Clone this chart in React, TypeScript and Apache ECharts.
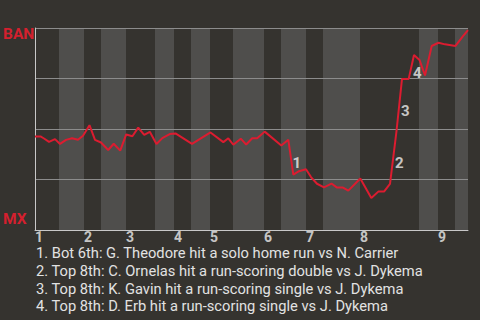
import React, { useEffect, useRef } from "react";
import * as echarts from "echarts";

// Game progress (plays spread across the game) and BAN win probability after each play
const progress = [0, 5.5, 9, 14, 20, 25, 31, 37, 43, 48, 54.5, 60, 66, 73.2, 78.7, 85.2, 91.2, 97.4, 103.2, 109.2, 114.8, 121.5, 127.3, 134.7, 140.5, 157, 175.5, 188.3, 193.3, 198.3, 205.8, 211.2, 217.2, 222.2, 229.7, 246.3, 253.3, 258.3, 264, 271, 276, 282, 289, 296.5, 301.7, 308, 313.3, 325.3, 336.3, 343.3, 349, 355, 361.5, 367, 373.7, 379, 384.5, 390, 396.7, 403.5, 410, 420.5, 428, 433];
const winProb = [0.463, 0.463, 0.453, 0.436, 0.45, 0.426, 0.446, 0.454, 0.447, 0.467, 0.519, 0.446, 0.433, 0.396, 0.427, 0.393, 0.473, 0.464, 0.507, 0.471, 0.486, 0.426, 0.455, 0.475, 0.478, 0.426, 0.483, 0.435, 0.454, 0.422, 0.452, 0.423, 0.454, 0.454, 0.487, 0.418, 0.447, 0.274, 0.291, 0.301, 0.262, 0.229, 0.211, 0.23, 0.211, 0.21, 0.195, 0.255, 0.158, 0.19, 0.19, 0.228, 0.49, 0.748, 0.748, 0.866, 0.842, 0.765, 0.911, 0.927, 0.919, 0.911, 0.96, 0.99];

// Where each inning starts, and the bottom-half spans (shaded)
const inningStarts = [0, 49, 91, 139, 175, 229, 271, 325, 403];
const inningLabels = ["1", "2", "3", "4", "5", "6", "7", "8", "9"];
const bottomHalves: [number, number][] = [
  [24, 49], [66, 91], [120, 139], [156, 175], [198, 229],
  [246, 271], [288, 325], [384, 403], [420, 433],
];
const gameEnd = 433;

// Key plays: index of the play that ends each swing
const keyPlays = [37, 52, 53, 55];
const keyPlayNotes = [
  "1. Bot 6th: G. Theodore hit a solo home run vs N. Carrier",
  "2. Top 8th: C. Ornelas hit a run-scoring double vs J. Dykema",
  "3. Top 8th: K. Gavin hit a run-scoring single vs J. Dykema",
  "4. Top 8th: D. Erb hit a run-scoring single vs J. Dykema",
];

const awayTeam = "BAN";
const homeTeam = "MX";

const BG = "#35332f";
const BAND = "#4f4e4c";
const RED = "#dc1c30";
const FONT = "Roboto, 'Noto Sans', sans-serif";

export default function App() {
  const ref = useRef<HTMLDivElement>(null);

  useEffect(() => {
    if (!ref.current) return;
    const chart = echarts.init(ref.current, undefined, { renderer: "svg" });

    const lineData = progress.map((x, i) => [x, winProb[i]]);
    const keyData = keyPlays.map((end, n) => ({
      value: [
        (progress[end - 1] + progress[end]) / 2,
        (winProb[end - 1] + winProb[end]) / 2,
      ],
      name: String(n + 1),
    }));

    chart.setOption({
      animation: false,
      backgroundColor: BG,
      grid: { left: 35, right: 12, top: 28, bottom: 90 },
      xAxis: {
        type: "value",
        min: 0,
        max: gameEnd,
        z: 2,
        axisLine: { show: true, lineStyle: { color: "#c8c8c8", width: 1 } },
        axisTick: { show: false },
        axisLabel: { show: false },
        splitLine: { show: false },
      },
      yAxis: {
        type: "value",
        min: 0,
        max: 1,
        interval: 0.25,
        z: 2,
        axisLine: { show: true, lineStyle: { color: "#c8c8c8", width: 1 } },
        axisTick: { show: false },
        axisLabel: { show: false },
        splitLine: { show: true, lineStyle: { color: "#8c8c8c", width: 1 } },
      },
      series: [
        {
          type: "line",
          data: lineData,
          z: 3,
          showSymbol: false,
          symbol: "none",
          lineStyle: { color: RED, width: 2 },
          markArea: {
            silent: true,
            z: 1,
            itemStyle: { color: BAND },
            label: { show: false },
            data: bottomHalves.map(([a, b]) => [{ xAxis: a }, { xAxis: b }]),
          },
        },
        {
          type: "scatter",
          z: 4,
          clip: false,
          symbolSize: 0,
          silent: true,
          data: keyData,
          label: {
            show: true,
            position: "inside",
            offset: [6, 6],
            formatter: (p: any) => p.name,
            color: "#eeeeee",
            fontFamily: FONT,
            fontWeight: "bold",
            fontSize: 15,
          },
        },
        {
          type: "scatter",
          z: 4,
          clip: false,
          symbolSize: 0,
          silent: true,
          data: inningStarts.map((x, i) => ({ value: [x, 0], name: inningLabels[i] })),
          label: {
            show: true,
            position: "inside",
            align: "left",
            verticalAlign: "top",
            offset: [0, 0],
            formatter: (p: any) => p.name,
            color: "#eeeeee",
            fontFamily: FONT,
            fontWeight: "bold",
            fontSize: 14,
          },
        },
      ],
      graphic: [
        {
          type: "text",
          left: 3,
          top: 26,
          style: {
            text: awayTeam,
            fill: "#d4202e",
            font: `bold 15.5px ${FONT}`,
          },
        },
        {
          type: "text",
          left: 3,
          top: 211,
          style: {
            text: homeTeam,
            fill: "#d4202e",
            font: `bold 15.5px ${FONT}`,
          },
        },
        {
          type: "text",
          left: 36,
          top: 244.5,
          style: {
            text: keyPlayNotes.join("\n"),
            fill: "#e2e2e2",
            font: `14.7px ${FONT}`,
            lineHeight: 17.7,
          },
        },
      ],
    });

    return () => chart.dispose();
  }, []);

  return (
    <div
      ref={ref}
      style={{ position: "fixed", left: 0, top: 0, width: 480, height: 320, background: BG }}
    />
  );
}
